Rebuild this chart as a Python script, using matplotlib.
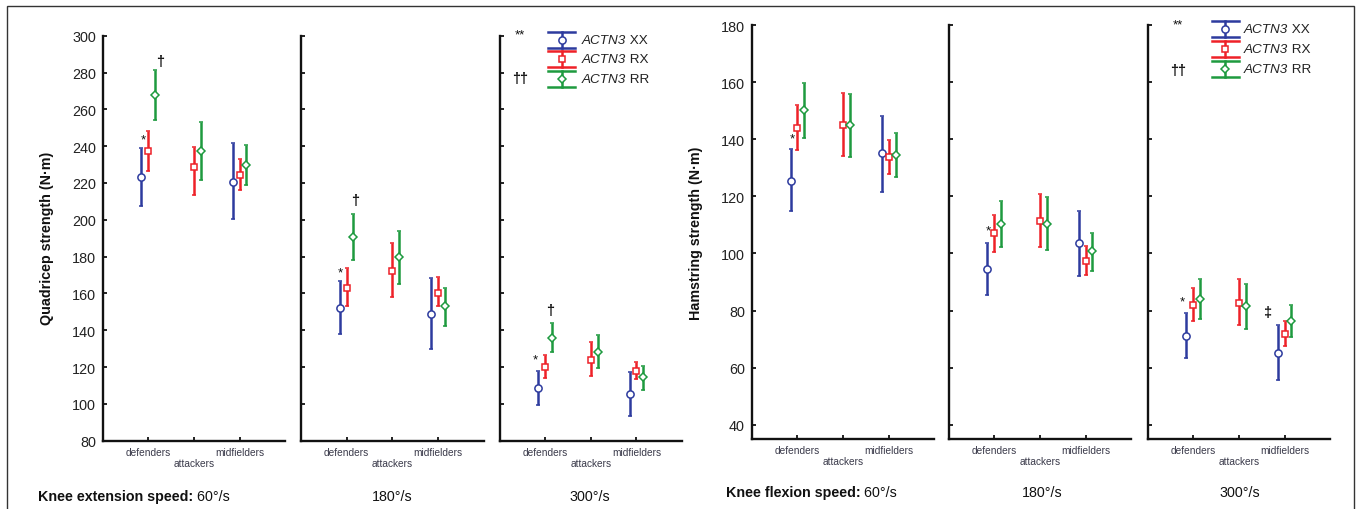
import numpy as np
import matplotlib
matplotlib.use("Agg")
import matplotlib.pyplot as plt
from matplotlib.patches import Rectangle

plt.rcParams["font.family"] = ["Liberation Sans", "DejaVu Sans"]

nan = np.nan
groups = ["defenders", "attackers", "midfielders"]
group_labels = ["defenders", "\nattackers", "midfielders"]
genotypes = ["XX", "RX", "RR"]

# rows: XX, RX, RR ; columns: defenders, attackers, midfielders
q60_mean = [[223.4, nan, 220.7], [237.2, 228.5, 224.5], [267.8, 237.2, 229.9]]
q60_low = [[207.7, nan, 200.4], [226.3, 213.5, 216.2], [254.2, 221.6, 218.9]]
q60_high = [[239.0, nan, 241.5], [248.4, 239.7, 233.0], [281.4, 252.9, 240.8]]

q180_mean = [[151.9, nan, 148.6], [163.1, 172.4, 160.4], [190.8, 179.8, 153.0]]
q180_low = [[138.0, nan, 130.0], [153.0, 158.2, 153.0], [178.1, 165.1, 142.5]]
q180_high = [[166.6, nan, 168.2], [173.8, 187.2, 168.7], [203.1, 194.1, 163.1]]

q300_mean = [[108.5, nan, 105.2], [119.9, 123.8, 117.7], [135.8, 128.4, 114.4]]
q300_low = [[99.6, nan, 93.6], [113.9, 115.0, 113.5], [128.0, 119.3, 107.7]]
q300_high = [[117.7, nan, 117.2], [126.6, 133.4, 122.9], [143.8, 137.6, 120.4]]

h60_mean = [[125.3, nan, 135.0], [144.0, 145.1, 133.8], [150.1, 145.1, 134.3]]
h60_low = [[114.7, nan, 121.5], [136.2, 134.0, 127.8], [140.3, 133.7, 126.7]]
h60_high = [[136.4, nan, 148.3], [152.0, 156.1, 139.6], [159.6, 155.8, 142.0]]

h180_mean = [[94.5, nan, 103.5], [107.2, 111.5, 97.2], [110.3, 110.3, 100.8]]
h180_low = [[85.3, nan, 92.2], [100.5, 102.3, 92.4], [102.3, 101.2, 93.9]]
h180_high = [[103.7, nan, 114.8], [113.6, 120.8, 102.5], [118.3, 119.6, 107.3]]

h300_mean = [[71.1, nan, 65.2], [82.0, 82.8, 71.7], [84.0, 81.6, 76.3]]
h300_low = [[63.4, nan, 55.6], [76.4, 74.9, 67.5], [77.1, 73.6, 70.6]]
h300_high = [[79.2, nan, 75.0], [87.8, 90.9, 76.3], [90.9, 89.3, 81.9]]

# significance marks: (text, x, y)
q60_notes = [("*", 0.9, 243.9), ("†", 1.25, 286.4)]
q180_notes = [("*", 0.855, 171.4), ("†", 1.18, 210.9)]
q300_notes = [("*", 0.78, 124.0), ("†", 1.11, 151.2), ("**", 0.45, 300.9), ("††", 0.45, 277.0)]
h60_notes = [("*", 0.89, 140.4)]
h180_notes = [("*", 0.87, 108.2)]
h300_notes = [("*", 0.76, 83.3), ("‡", 2.62, 79.4), ("**", 0.66, 180.3), ("††", 0.66, 164.4)]

speeds = ["60°/s", "180°/s", "300°/s"]

colors = ["#2d3b9e", "#ee2128", "#1e9a3f"]
markers = ["o", "s", "D"]
msizes = [5.2, 4.5, 3.6]
offsets = [-0.15, 0.0, 0.15]

W, H = 1362, 510


def px_axes(x0, top, bottom, width=182.5):
    return [x0 / W, 1 - bottom / H, width / W, (bottom - top) / H]


def draw_panel(ax, mean, low, high, ylim, yticks, notes, first):
    x = np.arange(1, 4)
    for k in range(3):
        m = np.array(mean[k])
        lo = np.array(low[k])
        hi = np.array(high[k])
        ax.errorbar(x + offsets[k], m, yerr=[m - lo, hi - m], fmt=markers[k],
                    color=colors[k], mfc="white", mec=colors[k], ms=msizes[k],
                    mew=1.1, elinewidth=1.8, capsize=1.6, capthick=1.8)
    for txt, nx, ny in notes:
        if "*" in txt:
            ax.text(nx, ny, txt, ha="center", va="center", fontsize=9.5,
                    color="#111111", clip_on=False)
        else:
            ax.text(nx, ny, txt, ha="center", va="center", fontsize=10.5,
                    weight="bold", color="#111111", clip_on=False)
    ax.set_xlim(0, 4)
    ax.set_ylim(*ylim)
    ax.set_yticks(yticks)
    ax.set_xticks(x)
    ax.set_xticklabels(group_labels, fontsize=7.3, color="#3a3a4a")
    for side in ["top", "right"]:
        ax.spines[side].set_visible(False)
    for side in ["left", "bottom"]:
        ax.spines[side].set_linewidth(1.7)
        ax.spines[side].set_color("#111111")
    ax.tick_params(axis="both", direction="in", length=3, width=1.3, color="#111111")
    ax.tick_params(axis="y", pad=5, labelsize=10.4, labelcolor="#222222", labelleft=first)
    ax.tick_params(axis="x", pad=4.2)
    ax.set_facecolor("none")


def draw_legend(ax, x_icon, x_text):
    rows = [0.99, 0.942, 0.893]
    hw, hh = 0.074, 0.0195
    for k in range(3):
        y = rows[k]
        kw = dict(transform=ax.transAxes, clip_on=False, color=colors[k], lw=1.8)
        ax.plot([x_icon - hw, x_icon + hw], [y + hh, y + hh], **kw)
        ax.plot([x_icon - hw, x_icon + hw], [y - hh, y - hh], **kw)
        ax.plot([x_icon, x_icon], [y - hh, y + hh], **kw)
        ax.plot([x_icon], [y], marker=markers[k], ms=msizes[k], mfc="white",
                mec=colors[k], mew=1.1, transform=ax.transAxes, clip_on=False)
        t = ax.text(x_text, y, "ACTN3", style="italic", fontsize=9.7,
                    transform=ax.transAxes, va="center", ha="left", color="#222222")
        ax.annotate(" " + genotypes[k], xy=(1, 0), xycoords=t, va="bottom",
                    ha="left", fontsize=9.7, color="#222222", annotation_clip=False)


fig = plt.figure(figsize=(W / 100, H / 100), dpi=100)

quad = [(q60_mean, q60_low, q60_high, q60_notes),
        (q180_mean, q180_low, q180_high, q180_notes),
        (q300_mean, q300_low, q300_high, q300_notes)]
ham = [(h60_mean, h60_low, h60_high, h60_notes),
       (h180_mean, h180_low, h180_high, h180_notes),
       (h300_mean, h300_low, h300_high, h300_notes)]

left_x = [102.7, 301.0, 499.5]
right_x = [751.8, 948.7, 1147.7]

qaxes = []
for i, (m, lo, hi, nt) in enumerate(quad):
    ax = fig.add_axes(px_axes(left_x[i], 36.7, 441.7))
    draw_panel(ax, m, lo, hi, (80, 300), np.arange(80, 301, 20), nt, i == 0)
    qaxes.append(ax)

haxes = []
for i, (m, lo, hi, nt) in enumerate(ham):
    ax = fig.add_axes(px_axes(right_x[i], 26.0, 440.0))
    draw_panel(ax, m, lo, hi, (35, 180), np.arange(40, 181, 20), nt, i == 0)
    haxes.append(ax)

draw_legend(qaxes[2], 0.34, 0.45)
draw_legend(haxes[2], 0.425, 0.528)

fig.text(46.7 / W, 1 - 238.3 / H, "Quadricep strength (N·m)", rotation=90,
         ha="center", va="center", fontsize=10.3, weight="bold", color="#111111")
fig.text(695.7 / W, 1 - 233 / H, "Hamstring strength (N·m)", rotation=90,
         ha="center", va="center", fontsize=10.3, weight="bold", color="#111111")

# speed captions under each half
t1 = fig.text(37.7 / W, 1 - 497 / H, "Knee extension speed:", weight="bold",
              fontsize=10.3, va="center", ha="left", color="#111111")
qaxes[0].annotate(" " + speeds[0], xy=(1, 0), xycoords=t1, va="bottom", ha="left",
                  fontsize=10.3, color="#111111", annotation_clip=False)
t2 = fig.text(725.7 / W, 1 - 492.7 / H, "Knee flexion speed:", weight="bold",
              fontsize=10.3, va="center", ha="left", color="#111111")
haxes[0].annotate(" " + speeds[0], xy=(1, 0), xycoords=t2, va="bottom", ha="left",
                  fontsize=10.3, color="#111111", annotation_clip=False)
for cx, s in zip([392, 590], speeds[1:]):
    fig.text(cx / W, 1 - 497 / H, s, ha="center", va="center", fontsize=10.3, color="#111111")
for cx, s in zip([1041.7, 1240], speeds[1:]):
    fig.text(cx / W, 1 - 492.7 / H, s, ha="center", va="center", fontsize=10.3, color="#111111")

fig.patches.append(Rectangle((7 / W, -0.1), (1354 - 7) / W, 1.1 - 7 / H,
                             transform=fig.transFigure, fill=False,
                             edgecolor="#333333", linewidth=1.0))

fig.savefig("out.png", dpi=100)
